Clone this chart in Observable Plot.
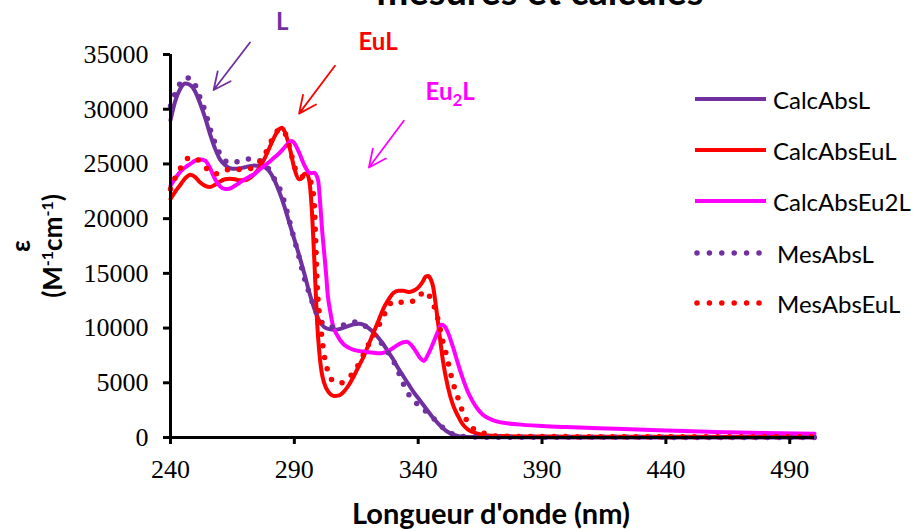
<!DOCTYPE html>
<html>
<head>
<meta charset="utf-8">
<script src="https://cdn.jsdelivr.net/npm/d3@7"></script>
<script src="https://cdn.jsdelivr.net/npm/@observablehq/plot@0.6"></script>
<style>
  body { margin: 0; background: #fff; }
  #wrap { position: relative; width: 913px; height: 529px; overflow: hidden; background: #fff; font-family: Lato, "Open Sans", sans-serif; color: #000; }
  #wrap > svg { position: absolute; left: 0; top: 0; }
  .ylab { position: absolute; left: 36px; top: 246px; width: 260px; transform: translate(-50%, -50%) rotate(-90deg); text-align: center; font-weight: bold; font-size: 26px; line-height: 32px; white-space: nowrap; }
  .ylab sup { font-size: 16px; vertical-align: 9px; line-height: 0; }
  .xlab { position: absolute; left: 491px; top: 512px; transform: translate(-50%, -50%); font-weight: bold; font-size: 29px; white-space: nowrap; }
  .title { position: absolute; left: 540px; bottom: 520px; transform: translateX(-50%); font-weight: bold; font-size: 38px; line-height: 1; white-space: nowrap; }
  .leg { position: absolute; height: 32px; display: flex; align-items: center; font-size: 24px; white-space: nowrap; }
</style>
</head>
<body>
<div id="wrap"></div>
<script>
// ---- data (wavelength nm, epsilon M-1 cm-1) ----
const calcAbsL = [
  [240,29000],[242,30800],[244,31900],[246,32350],[248,32200],[250,31600],[252,30500],[254,29200],
  [256,27700],[258,26400],[260,25400],[262,24900],[264,24600],[266,24550],[268,24600],[270,24700],
  [272,24800],[274,24850],[276,24800],[278,24700],[280,24300],[282,23500],[284,22400],[286,21100],
  [288,19600],[290,18100],[292,16600],[294,15000],[296,13300],[298,11800],[300,10700],[302,10100],
  [304,9900],[306,9850],[308,9900],[310,10050],[312,10200],[314,10350],[316,10400],[318,10300],
  [320,10000],[322,9600],[324,9100],[326,8500],[328,7800],[330,7100],[332,6300],[334,5600],
  [336,4900],[338,4200],[340,3600],[342,3000],[344,2400],[346,1800],[348,1300],[350,850],
  [352,500],[354,280],[356,150],[358,80],[362,40],[370,20],[400,10],[450,0],[500,0]
];
const calcAbsEuL = [
  [240,21800],[242,22500],[244,23100],[246,23700],[248,24000],[250,23800],[252,23300],[254,23000],
  [256,22900],[258,23100],[260,23400],[262,23600],[264,23650],[266,23600],[268,23500],[270,23500],
  [272,23700],[274,24100],[276,24700],[278,25500],[280,26500],[282,27500],[284,28200],[285,28300],
  [286,28000],[288,26600],[290,24600],[292,23600],[293,23700],[294,24100],[295,24100],[296,23500],
  [297,21000],[297.8,17500],[298.5,14000],[299.2,10500],[300,8000],[301,6000],[302,5000],[304,4100],
  [306,3800],[308,3850],[310,4200],[312,4800],[314,5600],[316,6500],[318,7400],[320,8500],
  [322,9600],[324,10700],[326,11800],[328,12600],[330,13200],[332,13400],[334,13400],[336,13300],
  [338,13400],[340,13700],[342,14300],[343,14700],[344,14750],[345,14500],[346,13800],[347,12300],
  [348,10500],[349,8700],[350,7000],[352,4600],[354,3000],[356,2000],[358,1200],[360,750],
  [362,500],[366,250],[370,150],[380,100],[400,80],[450,60],[500,50]
];
const calcAbsEu2L = [
  [240,23000],[242,23700],[244,24300],[246,24700],[248,25000],[250,25300],[252,25400],[254,25300],
  [256,24600],[258,23600],[260,22950],[262,22700],[264,22750],[266,23000],[268,23300],[270,23600],
  [272,23850],[274,24100],[276,24500],[278,24850],[280,25200],[282,25600],[284,26000],[286,26500],
  [288,27000],[289,27100],[290,26900],[292,26000],[294,24900],[296,24200],[297,24150],[298,24200],
  [299.6,23500],[300.4,21500],[301.2,19000],[302,17000],[302.8,15000],[303.5,13000],[304.5,11500],
  [305.5,10300],[307.4,9300],[310,8500],[312,8200],[314,8000],[316,7900],[318,7850],[320,7800],
  [322,7750],[324,7700],[326,7750],[328,7900],[330,8200],[332,8500],[334,8700],[335.5,8750],
  [337,8500],[339,7900],[341,7200],[342.3,7000],[344,7600],[346,8600],[348,9700],[349.3,10300],
  [350.5,10200],[352,9600],[354,8300],[356,6800],[358,5400],[360,4200],[362,3300],[364,2600],
  [366,2100],[368,1800],[372,1450],[376,1300],[380,1200],[390,1050],[400,950],[420,800],
  [440,650],[460,500],[480,420],[500,350]
];
const mesAbsL = [
  [240,30300],[242,31500],[244,32400],[246,32850],[248,32850],[250,32200],[252,31000],[254,29800],
  [256,28200],[258,26900],[260,25900],[262,25300],[264,25100],[266,25150],[268,25300],[270,25400],
  [272,25450],[274,25400],[276,25300],[278,25000],[280,24400],[282,23600],[284,22800],[286,21500],
  [288,19800],[290,18100],[292,16400],[294,14600],[296,13200],[298,11900],[300,10900],[302,10300],
  [304,10100],[306,10100],[308,10150],[310,10300],[312,10450],[314,10550],[316,10500],[318,10300],
  [320,9900],[322,9400],[324,8900],[326,8400],[328,7700],[330,7000],[332,6000],[334,4900],
  [336,4000],[338,3400],[340,3000],[342,2600],[344,2200],[346,1800],[348,1300],[350,900],
  [352,550],[354,300],[356,150],[360,70],[370,30],[400,20],[450,10],[500,0]
];
const mesAbsEuL = [
  [240,22700],[242,23800],[244,24600],[246,25300],[248,25600],[250,25500],[252,25200],[254,24700],
  [256,24300],[258,24100],[260,24150],[262,24400],[264,24500],[266,24500],[268,24500],[270,24500],
  [272,24550],[274,24800],[276,25200],[278,25800],[280,26800],[282,27600],[284,28200],[286,27900],
  [288,26600],[290,24800],[292,24000],[294,23800],[296,23700],[297,23000],[298,21500],[298.6,18000],
  [299.2,14000],[300,11500],[300.7,10000],[301.3,8800],[302,7600],[303,6500],[305,5300],[307,5000],
  [309,5000],[311,5300],[313,5700],[316,6700],[318,7600],[320,8500],[322,9300],[324,10200],
  [326,11100],[328,12000],[330,12450],[332,12400],[335,12300],[337,12400],[339.5,12600],[342.5,13350],
  [344,13100],[345.3,12600],[347,11600],[348.4,10400],[349.7,9000],[351.1,7800],[352.4,6550],
  [353.8,5200],[355.8,3800],[358.4,2100],[361.8,900],[365.9,450],[370.5,150],[380,100],[400,80],
  [450,70],[500,60]
];

const seriesNames  = ["CalcAbsL", "CalcAbsEuL", "CalcAbsEu2L", "MesAbsL", "MesAbsEuL"];
const seriesColors = ["#7030A0", "#FF0000", "#FF00FF", "#7030A0", "#FF0000"];
const seriesDotted = [false, false, false, true, true];
const seriesData   = [calcAbsL, calcAbsEuL, calcAbsEu2L, mesAbsL, mesAbsEuL];

const xTicks = [240, 290, 340, 390, 440, 490];
const yTicks = [0, 5000, 10000, 15000, 20000, 25000, 30000, 35000];

// annotations (data coordinates)
const annotLabels = [
  {x: 285.1, y: 37900, text: "L",    color: "#7030A0"},
  {x: 323.8, y: 36070, text: "EuL",  color: "#FF0000"},
  {x: 352.9, y: 31500, text: "Eu2L", color: "#FF00FF"}
];
const annotArrows = [
  {x1: 272.1, y1: 36100, x2: 257.4, y2: 31750, color: "#7030A0"},
  {x1: 306.4, y1: 33970, x2: 291.9, y2: 29600, color: "#FF0000"},
  {x1: 334.2, y1: 28940, x2: 320.1, y2: 24670, color: "#FF00FF"}
];

const lineMarks = seriesData.map((data, i) => Plot.line(data, {
  x: d => d[0], y: d => d[1],
  stroke: seriesColors[i],
  strokeWidth: seriesDotted[i] ? 5.5 : 4,
  strokeDasharray: seriesDotted[i] ? "0 11.7" : null,
  strokeLinecap: "round",
  curve: "monotone-x"
}));

const chart = Plot.plot({
  width: 913, height: 529,
  marginLeft: 170, marginRight: 99, marginTop: 54, marginBottom: 92,
  x: {domain: [240, 500]},
  y: {domain: [0, 35000]},
  color: {type: "identity"},
  style: {background: "#fff", color: "#000", overflow: "visible"},
  marks: [
    ...lineMarks,
    Plot.ruleX([240], {strokeWidth: 3, stroke: "#000"}),
    Plot.ruleY([0], {strokeWidth: 3, stroke: "#000"}),
    Plot.axisX({ticks: xTicks, tickSize: 7, tickPadding: 15, fontSize: 26, fontFamily: "Liberation Serif", strokeWidth: 3, label: null, tickFormat: d => String(d)}),
    Plot.axisY({ticks: yTicks, tickSize: 7, tickPadding: 15, fontSize: 26, fontFamily: "Liberation Serif", strokeWidth: 3, label: null, tickFormat: d => String(d)}),
    Plot.arrow(annotArrows, {x1: "x1", y1: "y1", x2: "x2", y2: "y2", stroke: "color", strokeWidth: 1.8, headLength: 16, headAngle: 50}),
    Plot.text(annotLabels, {x: "x", y: "y", text: "text", fill: "color", fontSize: 24, fontWeight: "bold", fontFamily: "Lato"})
  ]
});

// subscript for Eu2L
d3.select(chart).selectAll("text").each(function() {
  if (this.textContent === "Eu2L") {
    const t = d3.select(this);
    t.text(null);
    t.append("tspan").text("Eu");
    t.append("tspan").attr("dy", 6).attr("font-size", 17).text("2");
    t.append("tspan").attr("dy", -6).text("L");
  }
});

const wrap = document.getElementById("wrap");
wrap.appendChild(chart);

// title (partially cut off at top, as in reference)
const title = document.createElement("div");
title.className = "title";
title.textContent = "mesures et calculés";
wrap.appendChild(title);

// axis titles
const ylab = document.createElement("div");
ylab.className = "ylab";
ylab.innerHTML = "ε<br>(M<sup>-1</sup>cm<sup>-1</sup>)";
wrap.appendChild(ylab);
const xlab = document.createElement("div");
xlab.className = "xlab";
xlab.textContent = "Longueur d'onde (nm)";
wrap.appendChild(xlab);

// legend
const legRows = [99, 150, 201, 253, 303];
seriesNames.forEach((name, i) => {
  const row = document.createElement("div");
  row.className = "leg";
  row.style.left = "695px";
  row.style.top = (legRows[i] - 16) + "px";
  const dotted = seriesDotted[i];
  row.innerHTML =
    `<svg width="${dotted ? 82 : 78}" height="12" style="overflow:visible">` +
    (dotted
      ? `<line x1="2" y1="6" x2="64" y2="6" stroke="${seriesColors[i]}" stroke-width="5.5" stroke-linecap="round" stroke-dasharray="0 12.4"/>`
      : `<line x1="0" y1="6" x2="71" y2="6" stroke="${seriesColors[i]}" stroke-width="4"/>`) +
    `</svg><span>${name}</span>`;
  wrap.appendChild(row);
});
</script>
</body>
</html>
